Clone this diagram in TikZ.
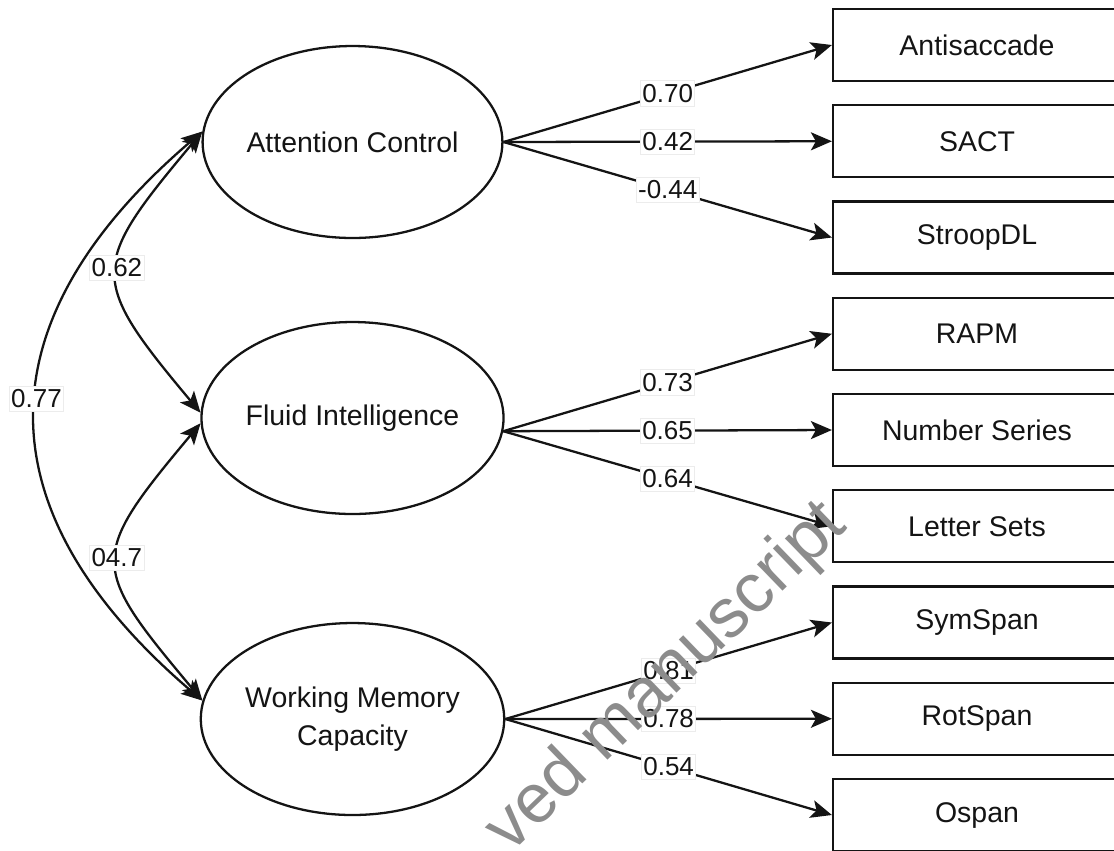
\documentclass[tikz,border=0pt]{standalone}
\usepackage{fontspec}
\setmainfont{Liberation Sans}
\usepackage{tikz}
\usetikzlibrary{arrows.meta, positioning, shapes.geometric}
\definecolor{ink}{RGB}{20,20,20}
\definecolor{markgray}{RGB}{140,140,140}
\definecolor{lbledge}{RGB}{236,236,236}
\tikzset{
  latent/.style={ellipse, draw=ink, line width=1.3pt, minimum width=5.8cm, minimum height=3.84cm,
    inner sep=0pt, align=center, text=ink, font=\fontsize{16.2}{21.5}\selectfont},
  indicator/.style={rectangle, draw=ink, line width=1.3pt, minimum width=5.76cm, minimum height=1.44cm,
    text=ink, font=\fontsize{16.2}{21}\selectfont},
  loading/.style={->, draw=ink, line width=1.3pt},
  covar/.style={<->, draw=ink, line width=1.3pt},
  coef/.style={fill=white, draw=lbledge, line width=0.4pt, inner xsep=1pt, inner ysep=2pt,
    text=ink, font=\fontsize{14.8}{16}\selectfont},
  wmark/.style={text=markgray, rotate=44, anchor=base west, inner sep=0pt,
    font=\fontsize{39.5}{40}\selectfont},
  >={Stealth[length=0.42cm, width=0.36cm, inset=0.1cm]}
}
\begin{document}
\begin{tikzpicture}[x=0.02cm, y=-0.02cm]
  \useasboundingbox (0,0) rectangle (1114,850);
  \clip (0,0) rectangle (1114,850);
  % latent factors
  \node[latent] (ac) at (352.5,142) {Attention Control};
  \node[latent] (fi) at (352.5,418) {Fluid Intelligence};
  \node[latent] (wmc) at (352.5,719) {Working Memory\\Capacity};
  % observed tasks
  \node[indicator] (anti) at (977,45) {Antisaccade};
  \node[indicator] (sact) at (977,141.25) {SACT};
  \node[indicator] (stroop) at (977,237.5) {StroopDL};
  \node[indicator] (rapm) at (977,333.75) {RAPM};
  \node[indicator] (numser) at (977,430) {Number Series};
  \node[indicator] (letset) at (977,526.25) {Letter Sets};
  \node[indicator] (symspan) at (977,622.5) {SymSpan};
  \node[indicator] (rotspan) at (977,718.75) {RotSpan};
  \node[indicator] (ospan) at (977,815) {Ospan};
  % loadings
  \draw[loading] (ac.east) -- node[coef] {0.70} (anti.west);
  \draw[loading] (ac.east) -- node[coef] {0.42} (sact.west);
  \draw[loading] (ac.east) -- node[coef] {-0.44} (stroop.west);
  \draw[loading] (fi.-5) -- node[coef] {0.73} (rapm.west);
  \draw[loading] (fi.-5) -- node[coef] {0.65} (numser.west);
  \draw[loading] (fi.-5) -- node[coef] {0.64} (letset.west);
  \draw[loading] (wmc.east) -- node[coef] {0.81} (symspan.west);
  \draw[loading] (wmc.east) -- node[coef] {0.78} (rotspan.west);
  \draw[loading] (wmc.east) -- node[coef] {0.54} (ospan.west);
  % factor correlations
  \draw[covar] (ac.176) .. controls +(-113,135) and +(-113,-135) .. node[coef, pos=0.48] {0.62} (fi.178);
  \draw[covar] (fi.182) .. controls +(-113,135) and +(-113,-135) .. node[coef, pos=0.48] {04.7} (wmc.173);
  \draw[covar] (ac.176) .. controls +(-222,190) and +(-222,-190) .. node[coef, pos=0.47] {0.77} (wmc.173);
  % watermark
  \node[wmark] (wm) at (510,855) {ved manuscript};
\end{tikzpicture}
\end{document}
